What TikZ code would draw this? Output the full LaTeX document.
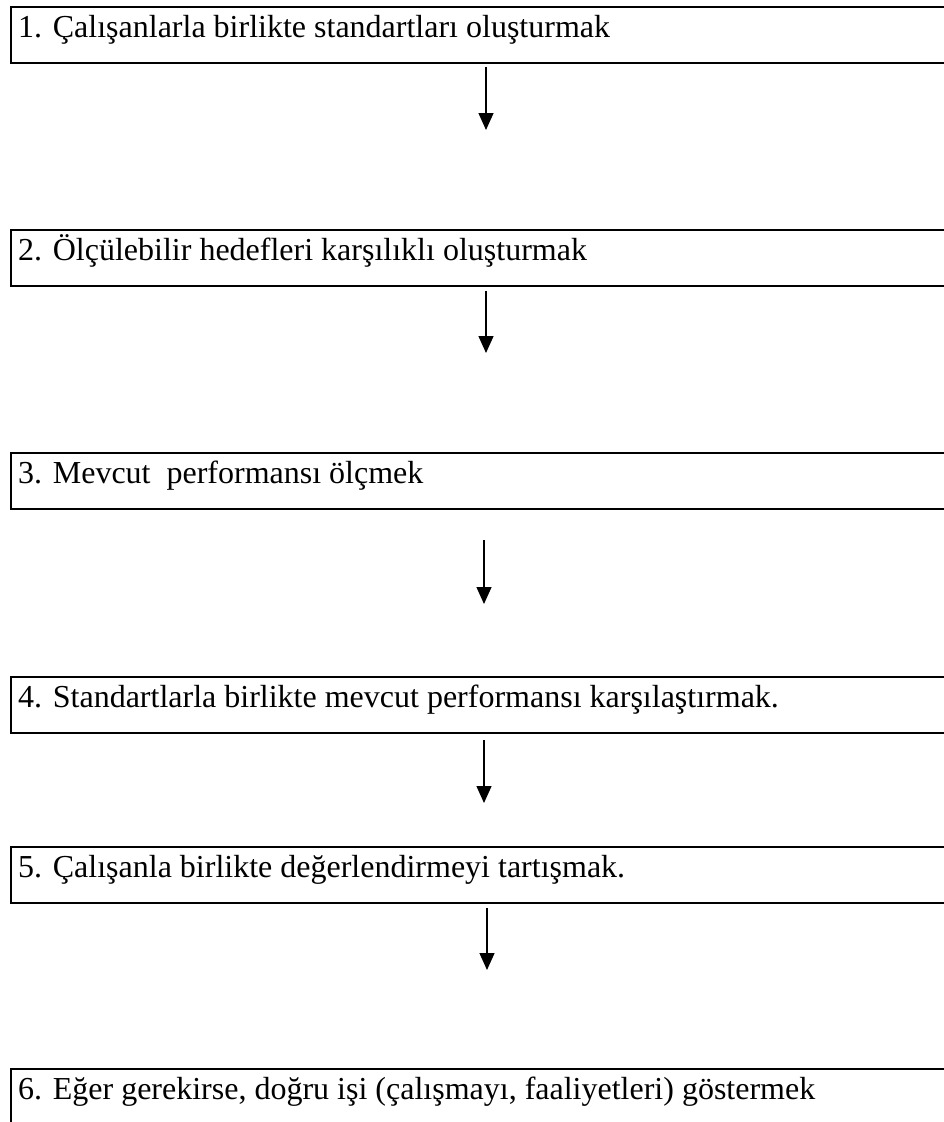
\documentclass[tikz,border=0pt]{standalone}
\usepackage{fontspec}
\setmainfont{Liberation Serif}
\usetikzlibrary{arrows.meta}
\tikzset{
  stepbox/.style={draw, line width=2pt, rectangle, anchor=north west, minimum width=960pt, minimum height=56pt, inner sep=0pt},
  steptext/.style={anchor=base west, inner sep=0pt, font=\fontsize{32}{36}\selectfont},
  arr/.style={line width=1.3pt, -{Triangle[width=15pt,length=17pt]}}
}
\begin{document}
\begin{tikzpicture}[x=1pt,y=-1pt]
\useasboundingbox (0,0) rectangle (944,1122);
\clip (0,0) rectangle (944,1122);
% boxes
\node[stepbox] (b1) at (10,6) {};
\node[stepbox] (b2) at (10,229) {};
\node[stepbox] (b3) at (10,452) {};
\node[stepbox] (b4) at (10,676) {};
\node[stepbox] (b5) at (10,846) {};
\node[stepbox, minimum height=80pt] (b6) at (10,1068) {};
% texts
\node[steptext] (t1) at ([xshift=8pt,yshift=-31pt]b1.north west) {1. Çalışanlarla birlikte standartları oluşturmak};
\node[steptext] (t2) at ([xshift=8pt,yshift=-31pt]b2.north west) {2. Ölçülebilir hedefleri karşılıklı oluşturmak};
\node[steptext] (t3) at ([xshift=8pt,yshift=-31pt]b3.north west) {3. Mevcut~ performansı ölçmek};
\node[steptext] (t4) at ([xshift=8pt,yshift=-31pt]b4.north west) {4. Standartlarla birlikte mevcut performansı karşılaştırmak.};
\node[steptext] (t5) at ([xshift=8pt,yshift=-31pt]b5.north west) {5. Çalışanla birlikte değerlendirmeyi tartışmak.};
\node[steptext] (t6) at ([xshift=8pt,yshift=-31pt]b6.north west) {6. Eğer gerekirse, doğru işi (çalışmayı, faaliyetleri) göstermek};
% arrow ends
\coordinate (a1s) at (486,67);  \coordinate (a1e) at (486,130);
\coordinate (a2s) at (486,291); \coordinate (a2e) at (486,353);
\coordinate (a3s) at (484,540); \coordinate (a3e) at (484,604);
\coordinate (a4s) at (484,740); \coordinate (a4e) at (484,803);
\coordinate (a5s) at (487,908); \coordinate (a5e) at (487,970);
\draw[arr] (a1s) -- (a1e);
\draw[arr] (a2s) -- (a2e);
\draw[arr] (a3s) -- (a3e);
\draw[arr] (a4s) -- (a4e);
\draw[arr] (a5s) -- (a5e);
\end{tikzpicture}
\end{document}
